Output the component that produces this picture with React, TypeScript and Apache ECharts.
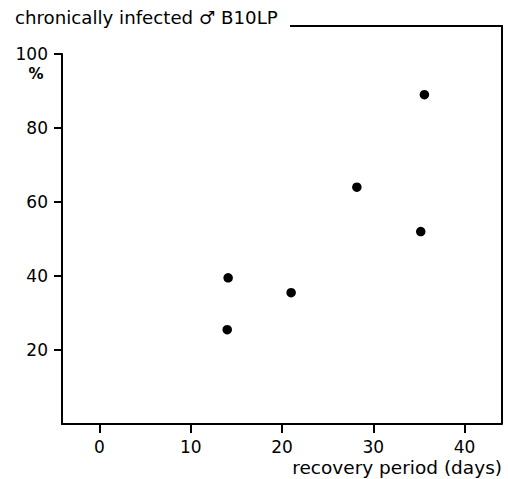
import React, { useEffect, useRef } from "react";
import * as echarts from "echarts";

const recoveryDays = [35.6, 28.2, 35.2, 14.1, 21.0, 14.0];
const percentValues = [89, 64, 52, 39.5, 35.5, 25.5];
const xTicks = [0, 10, 20, 30, 40];
const yTicks = [20, 40, 60, 80, 100];
const titleText = "chronically infected \u2642 B10LP";
const xAxisTitle = "recovery period (days)";
const yUnit = "%";

export default function App() {
  const ref = useRef<HTMLDivElement>(null);
  useEffect(() => {
    const chart = echarts.init(ref.current!, null, { renderer: "svg" });
    const font = "DejaVu Sans";
    chart.setOption({
      animation: false,
      backgroundColor: "#fff",
      textStyle: { fontFamily: font },
      title: {
        text: titleText,
        left: 10,
        top: 3,
        textStyle: { fontFamily: font, fontSize: 18.2, fontWeight: "normal", color: "#000" },
      },
      grid: { left: 62, right: 6, top: 54, bottom: 55 },
      xAxis: {
        type: "value",
        min: -4.1,
        max: 44.1,
        axisLine: { show: true, onZero: false, lineStyle: { color: "#000", width: 2 } },
        axisTick: { show: true, customValues: xTicks, length: 9, lineStyle: { width: 2, color: "#000" } },
        axisLabel: { customValues: xTicks, margin: 14, fontSize: 17, color: "#000", fontFamily: font },
        splitLine: { show: false },
      },
      yAxis: {
        type: "value",
        min: 0,
        max: 100,
        axisLine: { show: true, onZero: false, lineStyle: { color: "#000", width: 2 } },
        axisTick: { show: true, customValues: yTicks, length: 8, lineStyle: { width: 2, color: "#000" } },
        axisLabel: { customValues: yTicks, margin: 14, fontSize: 17, color: "#000", fontFamily: font },
        splitLine: { show: false },
      },
      series: [
        {
          type: "scatter",
          data: recoveryDays.map((x, i) => [x, percentValues[i]]),
          symbolSize: 9.5,
          itemStyle: { color: "#000", opacity: 1 },
        },
      ],
      graphic: [
        {
          type: "polyline",
          shape: { points: [[290, 26], [502, 26], [502, 424]] },
          style: { stroke: "#000", lineWidth: 2, fill: "none" },
        },
        {
          type: "text",
          x: 36,
          y: 74,
          style: { text: yUnit, fontSize: 15, fontFamily: font, fontWeight: "bold", fill: "#000", textAlign: "center", textVerticalAlign: "middle" },
        },
        {
          type: "text",
          x: 502,
          y: 467,
          style: { text: xAxisTitle, fontSize: 18.5, fontFamily: font, fill: "#000", textAlign: "right", textVerticalAlign: "middle" },
        },
      ],
    });
    return () => chart.dispose();
  }, []);
  return <div ref={ref} style={{ position: "fixed", left: 0, top: 0, width: 508, height: 479 }} />;
}
